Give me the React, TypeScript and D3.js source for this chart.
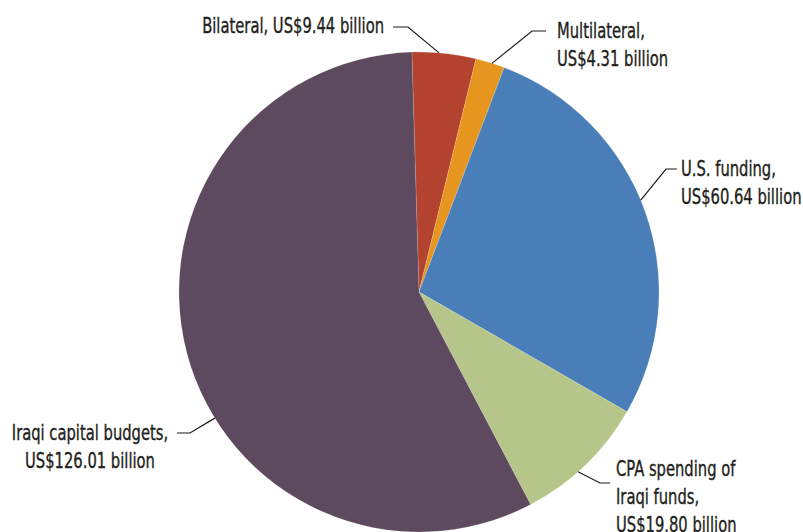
import React from "react";
import * as d3 from "d3";

const categories = ["Bilateral", "Multilateral", "U.S. funding", "CPA spending of Iraqi funds", "Iraqi capital budgets"];
const values = [9.44, 4.31, 60.64, 19.8, 126.01];
const labelLines = [
  ["Bilateral, US$9.44 billion"],
  ["Multilateral,", "US$4.31 billion"],
  ["U.S. funding,", "US$60.64 billion"],
  ["CPA spending of", "Iraqi funds,", "US$19.80 billion"],
  ["Iraqi capital budgets,", "US$126.01 billion"],
];
const colors = ["#B3432F", "#E6961F", "#4A7EB8", "#B6C68A", "#5E4A5E"];

const W = 803, H = 532;
const cx = 419, cy = 292, R = 240;
const startDeg = -1.7;
const SX = 0.8;

// leader layout: angle (deg) on rim, elbow point, horizontal end, text anchor
const leaders = [
  { ang: 4.8, elbow: [408, 27], end: [393, 27], tx: 384, ty: 26, anchor: "end" },
  { ang: 17.7, elbow: [532, 31], end: [546, 31], tx: 557, ty: 31, anchor: "start" },
  { ang: 67.5, elbow: [666, 169], end: [677, 169], tx: 681, ty: 169, anchor: "start" },
  { ang: 138.5, elbow: [600, 483], end: [610, 483], tx: 616, ty: 469, anchor: "start" },
  { ang: 238.3, elbow: [190, 433], end: [177, 433], tx: 90, ty: 433, anchor: "middle" },
];

export default function App() {
  const pie = d3
    .pie<number>()
    .sort(null)
    .startAngle((startDeg * Math.PI) / 180)
    .endAngle((startDeg * Math.PI) / 180 + 2 * Math.PI);
  const arcs = pie(values);
  const arc = d3.arc<d3.PieArcDatum<number>>().innerRadius(0).outerRadius(R);
  const lineGen = d3.line();
  const font = "'DejaVu Sans Condensed', 'DejaVu Sans', sans-serif";
  return (
    <svg
      width={W}
      height={H}
      style={{ position: "absolute", left: 0, top: 0, background: "#fff" }}
    >
      <g transform={`translate(${cx},${cy})`}>
        {arcs.map((a, i) => (
          <path key={categories[i]} d={arc(a) || ""} fill={colors[i]} stroke="#ffffff" strokeOpacity={0.25} strokeWidth={0.6} />
        ))}
      </g>
      {leaders.map((l, i) => {
        const t = (l.ang * Math.PI) / 180;
        const p: [number, number] = [cx + R * Math.sin(t), cy - R * Math.cos(t)];
        return (
          <g key={i}>
            <path d={lineGen([p, l.elbow as [number, number], l.end as [number, number]]) || ""} fill="none" stroke="#1a1a1a" strokeWidth={1.2} />
            <g transform={`translate(${l.tx},${l.ty}) scale(${SX},1)`}>
              <text
                x={0}
                y={0}
                textAnchor={l.anchor}
                fontFamily={font}
                fontSize={20.5}
                fill="#231f20"
                stroke="#231f20"
                strokeWidth={0.35}
              >
                {labelLines[i].map((s, j) => (
                  <tspan key={j} x={0} dy={j === 0 ? "0.35em" : 28}>
                    {s}
                  </tspan>
                ))}
              </text>
            </g>
          </g>
        );
      })}
    </svg>
  );
}
